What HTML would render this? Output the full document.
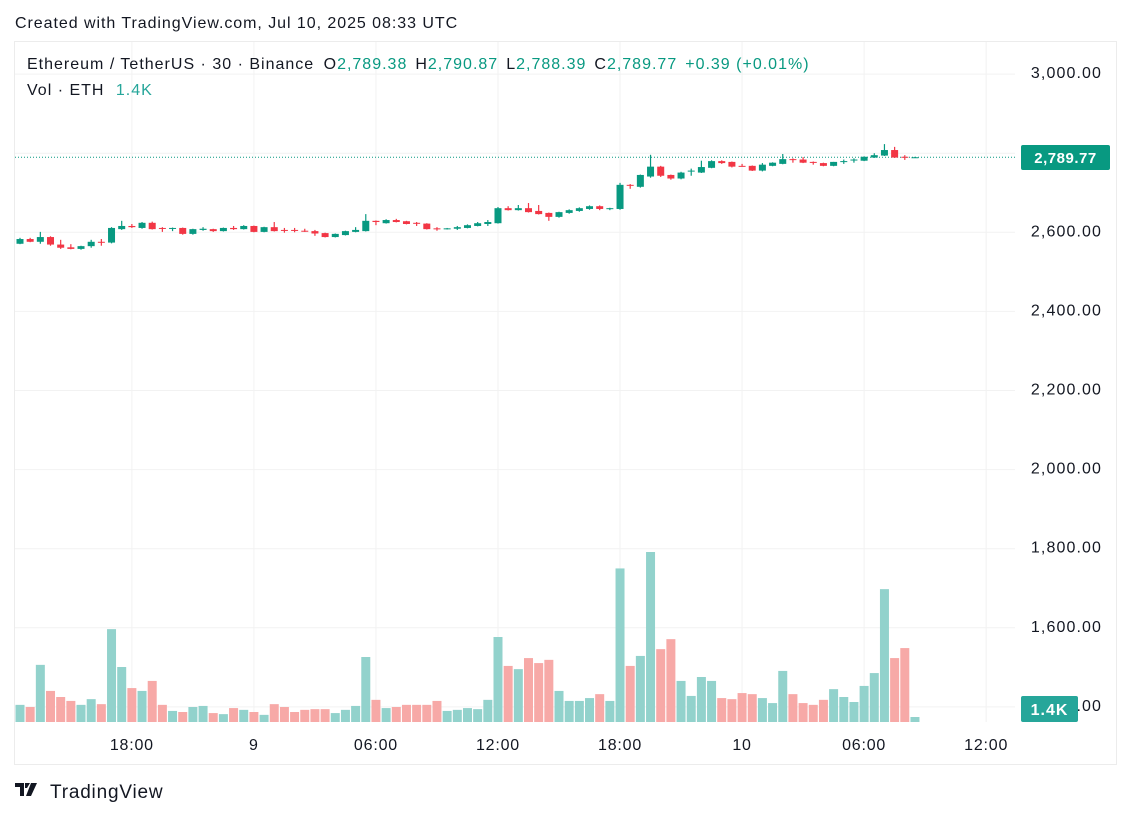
<!DOCTYPE html>
<html><head><meta charset="utf-8">
<style>
body{margin:0;background:#fff;width:1131px;height:817px;overflow:hidden;font-family:"Liberation Sans","DejaVu Sans",sans-serif;}
svg text{font-family:"Liberation Sans","DejaVu Sans",sans-serif;}
</style></head>
<body>
<svg id="chart" width="1131" height="817" xmlns="http://www.w3.org/2000/svg">
<text x="15" y="28" font-size="16" letter-spacing="0.95" fill="#131722">Created with TradingView.com, Jul 10, 2025 08:33 UTC</text>
<rect x="14.5" y="41.5" width="1102" height="723" fill="none" stroke="#ececec"/>
<g id="grid"></g>
<g id="vol"></g>
<line x1="15" x2="1015" y1="157.3" y2="157.3" stroke="#089981" stroke-dasharray="1 2"/>
<g id="candles"></g>
<g id="yaxis"></g>
<g id="xaxis"></g>
<g font-size="16" letter-spacing="1">
<text x="27" y="69" fill="#131722">Ethereum / TetherUS · 30 · Binance <tspan dx="4">O</tspan><tspan fill="#089981">2,789.38</tspan><tspan dx="8">H</tspan><tspan fill="#089981">2,790.87</tspan><tspan dx="8">L</tspan><tspan fill="#089981">2,788.39</tspan><tspan dx="8">C</tspan><tspan fill="#089981">2,789.77</tspan><tspan dx="8" fill="#089981">+0.39 (+0.01%)</tspan></text>
<text x="27" y="95" fill="#131722">Vol · ETH <tspan dx="6" fill="#26a69a">1.4K</tspan></text>
</g>
<rect x="1021" y="145" width="89" height="25" rx="2" fill="#089981"/>
<text x="1065.5" y="163" font-size="15" font-weight="bold" letter-spacing="0.5" fill="#fff" text-anchor="middle">2,789.77</text>
<rect x="1021" y="696" width="57" height="26" rx="2" fill="#26a69a"/>
<text x="1049.5" y="715" font-size="16" font-weight="bold" letter-spacing="1" fill="#fff" text-anchor="middle">1.4K</text>
<g>
<path d="M15 783h9v13h-4v-9h-5z M25 783h5l-3 5h-2z M31 783h6l-6 13h-5z" fill="#131722"/>
<text x="50" y="798" font-size="19" letter-spacing="0.8" fill="#131722">TradingView</text>
</g>
</svg>
<script>
const opens=[2571,2583,2576,2588,2569,2562,2558,2565,2576,2574,2608,2616,2611,2624,2611,2609,2611,2596,2606,2608,2603,2611,2608,2616,2601,2613,2606,2606,2604,2603,2598,2588,2593,2601,2603,2629,2623,2631,2628,2624,2622,2610,2609,2609,2611,2616,2621,2623,2661,2656,2661,2654,2649,2639,2649,2654,2659,2666,2660,2659,2720,2715,2741,2766,2745,2736,2754,2751,2763,2780,2778,2768,2768,2756,2768,2773,2785,2784,2778,2775,2768,2779,2782,2781,2789,2794,2808,2791,2789.38];
const highs=[2586,2586,2601,2590,2581,2570,2566,2581,2583,2613,2629,2621,2626,2627,2613,2612,2612,2609,2613,2609,2612,2616,2618,2617,2614,2626,2611,2611,2609,2606,2599,2597,2604,2613,2646,2630,2633,2634,2629,2626,2623,2613,2611,2616,2620,2626,2631,2664,2666,2669,2674,2669,2650,2652,2658,2663,2668,2668,2662,2725,2722,2746,2796,2768,2746,2753,2761,2781,2782,2782,2779,2773,2769,2775,2777,2798,2787,2790,2779,2776,2778,2784,2787,2792,2800,2823,2816,2795,2790.87];
const lows=[2570,2575,2571,2566,2558,2557,2556,2561,2566,2572,2606,2611,2609,2607,2601,2603,2594,2594,2604,2601,2602,2606,2607,2600,2600,2602,2599,2600,2601,2591,2587,2587,2592,2600,2602,2618,2622,2625,2620,2616,2607,2604,2607,2606,2610,2615,2616,2622,2655,2655,2650,2645,2629,2637,2647,2652,2657,2656,2656,2657,2710,2713,2738,2740,2733,2734,2743,2750,2762,2773,2764,2766,2755,2754,2767,2772,2776,2775,2771,2767,2767,2773,2776,2780,2788,2793,2788,2783,2788.39];
const closes=[2583,2576,2588,2569,2561,2558,2565,2576,2574,2611,2616,2613,2624,2608,2609,2611,2596,2608,2609,2603,2611,2608,2616,2601,2613,2603,2604,2604,2603,2597,2588,2596,2603,2606,2629,2626,2631,2626,2621,2622,2608,2608,2610,2613,2618,2623,2626,2661,2656,2661,2651,2646,2639,2651,2656,2661,2666,2659,2661,2720,2718,2745,2766,2743,2736,2751,2756,2765,2780,2775,2766,2767,2756,2771,2776,2785,2784,2776,2776,2768,2778,2780,2784,2791,2795,2808,2789,2789.4,2789.77];
const volumesK=[4.8,4.2,16,8.7,7,5.9,4.8,6.4,5,26,15.4,9.5,8.7,11.5,4.8,3.1,2.8,4.2,4.5,2.5,2.2,3.9,3.4,2.8,2,5,4.2,2.8,3.4,3.6,3.6,2.5,3.4,4.5,18.2,6.2,3.9,4.2,4.8,4.8,4.8,5.9,3.1,3.4,3.9,3.6,6.2,23.8,15.7,14.8,17.9,16.5,17.4,8.7,5.9,5.9,6.7,7.8,5.9,43,15.7,18.5,47.6,20.4,23.2,11.5,7.3,12.6,11.5,6.7,6.4,8.1,7.8,6.7,5.3,14.3,7.8,5.3,4.8,6.2,9.2,7,5.6,10.1,13.7,37.2,17.9,20.7,1.4];
const priceTicks=[3000,2800,2600,2400,2200,2000,1800,1600,1400];
const priceTickLabels=["3,000.00","","2,600.00","2,400.00","2,200.00","2,000.00","1,800.00","1,600.00","1,400.00"];
const timeTickBars=[11,23,35,47,59,71,83,95];
const timeTickLabels=["18:00","9","06:00","12:00","18:00","10","06:00","12:00"];

const NS="http://www.w3.org/2000/svg";
const xOf=i=>20+i*10.17;
const yOf=p=>232.3-(p-2600)*0.3955;
const volBase=722, volPx=1/0.28;
const vY=v=>volBase-v*volPx;
function mk(tag,attrs,parent){const e=document.createElementNS(NS,tag);for(const k in attrs)e.setAttribute(k,attrs[k]);parent.appendChild(e);return e;}
const grid=document.getElementById('grid'),yax=document.getElementById('yaxis'),xax=document.getElementById('xaxis');
priceTicks.forEach((p,i)=>{
  const l=mk('line',{x1:15,x2:1015,y1:yOf(p),y2:yOf(p),stroke:'#f2f2f2'},grid);
  
  
  if(priceTickLabels[i]){
    const t=mk('text',{x:1102,y:yOf(p)+4,'font-size':16,'letter-spacing':1.1,fill:'#131722','text-anchor':'end'},yax);
    t.textContent=priceTickLabels[i];
    
    
  }
});
timeTickBars.forEach((b,i)=>{
  const x=xOf(b);
  const l=mk('line',{x1:x,x2:x,y1:42,y2:722,stroke:'#f2f2f2'},grid);
  
  
  const t=mk('text',{x:x,y:750,'font-size':16,'letter-spacing':0.8,fill:'#131722','text-anchor':'middle'},xax);
  t.textContent=timeTickLabels[i];
  
  
});
const vg=document.getElementById('vol'),cg=document.getElementById('candles');
opens.forEach((o,i)=>{
  const c=closes[i],up=c>=o,x=xOf(i);
  const vb=mk('rect',{x:x-4.5,y:vY(volumesK[i]),width:9,height:volumesK[i]*volPx,fill:up?'#92d2cc':'#f7a9a7'},vg);
  
  
  const col=up?'#089981':'#f23645';
  const g=mk('g',{},cg);
  
  
  mk('line',{x1:x,x2:x,y1:yOf(highs[i]),y2:yOf(lows[i]),stroke:col,'stroke-width':1.2},g);
  const top=yOf(Math.max(o,c)),bot=yOf(Math.min(o,c));
  mk('rect',{x:x-3.5,y:top,width:7,height:Math.max(1,bot-top),fill:col},g);
});
</script>
</body></html>
